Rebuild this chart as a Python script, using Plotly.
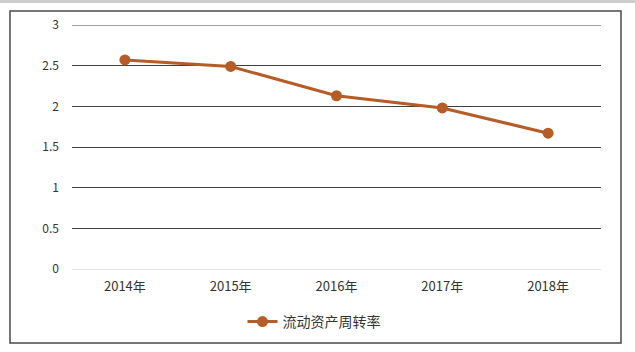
import plotly.graph_objects as go

years = ["2014年", "2015年", "2016年", "2017年", "2018年"]
turnover = [2.57, 2.49, 2.13, 1.98, 1.67]
y_ticks = [0, 0.5, 1, 1.5, 2, 2.5, 3]
y_tick_labels = ["0", "0.5", "1", "1.5", "2", "2.5", "3"]
series_name = "流动资产周转率"

W, H = 635, 352
L, R, T, B = 72, 601, 25, 269
pw, ph = R - L, B - T

def px(x):
    return (x - L) / pw

def py(y):
    return (B - y) / ph

fig = go.Figure()
fig.add_trace(go.Scatter(
    x=years, y=turnover, name=series_name, mode="lines+markers",
    line=dict(color="#B65C26", width=3),
    marker=dict(color="#B65C26", size=11),
))

fig.update_layout(
    width=W, height=H,
    margin=dict(l=L, r=W - R, t=T, b=H - B),
    paper_bgcolor="white", plot_bgcolor="white",
    font=dict(family="Noto Sans CJK SC, DejaVu Sans", size=12, color="#333333"),
    showlegend=True,
    legend=dict(orientation="h", x=px(314), xanchor="center", y=py(322), yanchor="middle",
                font=dict(size=14, color="#333333")),
    xaxis=dict(range=[-0.5, 4.5], showgrid=False, showline=False, zeroline=False, ticks="",
               ticklabelstandoff=8,
               tickfont=dict(size=13, color="#333333")),
    yaxis=dict(range=[0, 3], tickvals=y_ticks, ticktext=y_tick_labels,
               showgrid=True, gridcolor="#404040", gridwidth=1,
               zeroline=True, zerolinecolor="#e3e3e3", zerolinewidth=1,
               showline=False, ticks="", ticklabelstandoff=12,
               tickfont=dict(size=12, color="#333333")),
    shapes=[
        dict(type="rect", xref="paper", yref="paper",
             x0=0 - L / pw, x1=(W - L) / pw, y0=py(3), y1=py(0),
             fillcolor="#cccccc", line=dict(width=0), layer="below"),
        dict(type="rect", xref="paper", yref="paper",
             x0=px(10), x1=px(621), y0=py(343), y1=py(11),
             line=dict(color="#4a4a4a", width=1.5), layer="below"),
        dict(type="line", xref="paper", yref="y",
             x0=0, x1=1, y0=y_ticks[-1], y1=y_ticks[-1],
             line=dict(color="#404040", width=1), layer="below"),
    ],
)

fig.write_html("out.html")
